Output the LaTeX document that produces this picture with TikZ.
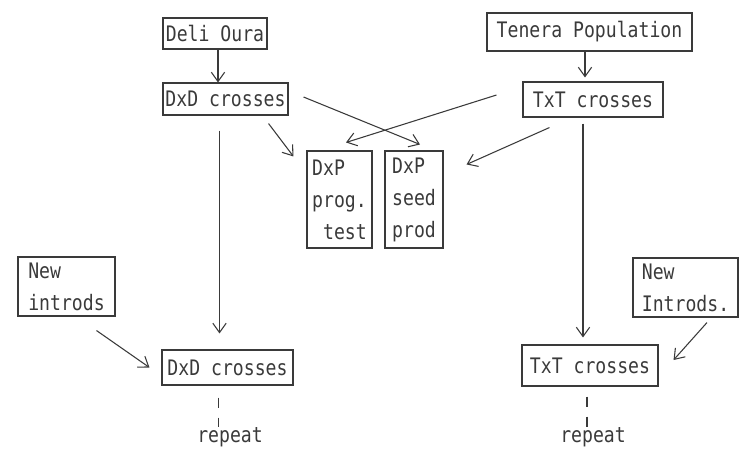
\documentclass[tikz,border=0pt]{standalone}
\usepackage{fontspec}
\setmonofont[FakeStretch=0.85]{DejaVu Sans Mono}
\usetikzlibrary{arrows.meta}
\definecolor{ink}{HTML}{3A3A3A}
\tikzset{
  box/.style={draw=ink, line width=0.8pt, inner sep=0pt, text=ink,
    font=\ttfamily\fontsize{16}{24}\selectfont, align=left},
  arr/.style={draw=ink, line width=0.8pt,
    -{Straight Barb[length=7pt,width=10pt,line width=0.8pt]}},
  link/.style={draw=ink, line width=0.8pt, dash pattern=on 7.5pt off 7.5pt},
  lbl/.style={inner sep=0pt, text=ink, font=\ttfamily\fontsize{16}{24}\selectfont}
}
\begin{document}
\begin{tikzpicture}[x=0.75pt,y=-0.75pt]
  \useasboundingbox (0,0) rectangle (750,462);

  % top row
  \node[box, minimum width=104*0.75pt, minimum height=31*0.75pt] (deli) at (215,33.5) {Deli Oura};
  \node[box, minimum width=205*0.75pt, minimum height=38*0.75pt] (ten) at (589.5,32) {Tenera Population};

  % first crosses
  \node[box, minimum width=125*0.75pt, minimum height=32*0.75pt] (dxd1) at (225.5,99) {DxD crosses};
  \node[box, minimum width=140*0.75pt, minimum height=35*0.75pt] (txt1) at (593,99.5) {TxT crosses};

  % progeny test and seed production
  \node[box, minimum width=65*0.75pt, minimum height=97*0.75pt] (prog) at (339.5,199.5) {DxP\\prog.\\\hphantom{x}test};
  \node[box, minimum width=58*0.75pt, minimum height=97*0.75pt] (seed) at (414,199.5) {DxP\\seed\\prod};

  % new introductions
  \node[box, minimum width=97*0.75pt, minimum height=59*0.75pt] (newl) at (66.5,286.5) {New\\introds};
  \node[box, minimum width=105*0.75pt, minimum height=59*0.75pt] (newr) at (685.5,287.5) {New\\Introds.};

  % second crosses
  \node[box, minimum width=131*0.75pt, minimum height=35*0.75pt] (dxd2) at (227.5,367.5) {DxD crosses};
  \node[box, minimum width=136*0.75pt, minimum height=41*0.75pt] (txt2) at (590,365.5) {TxT crosses};

  % repeat labels
  \node[lbl] (rep1) at (230,437) {repeat};
  \node[lbl] (rep2) at (593,437) {repeat};

  % vertical flow
  \draw[arr] ([shift={(3,0)}]deli.south) -- ([shift={(3,0)}]deli.south |- dxd1.north);
  \draw[arr] ([shift={(-4.5,0)}]ten.south) -- ([shift={(-4.5,-4)}]ten.south |- txt1.north);
  \draw[arr] ([shift={(-6,15)}]dxd1.south) -- ([shift={(-8,-16)}]dxd2.north);
  \draw[arr] ([shift={(-10,6)}]txt1.south) -- ([shift={(-7,-7)}]txt2.north);

  % crossings into the DxP boxes
  \draw[arr] ([shift={(15,-2)}]dxd1.east) -- ([shift={(6,-6)}]seed.north);
  \draw[arr] ([shift={(-20,8)}]dxd1.south east) -- ([shift={(-13,6)}]prog.north west);
  \draw[arr] ([shift={(-26,-4.5)}]txt1.west) -- ([shift={(6.5,-8)}]prog.north);
  \draw[arr] ([shift={(27,10)}]txt1.south west) -- ([shift={(23,14)}]seed.north east);

  % new introductions feeding the crosses
  \draw[arr] ([shift={(30,14)}]newl.south) -- ([shift={(-12,0)}]dxd2.west);
  \draw[arr] ([shift={(21.5,5)}]newr.south) -- ([shift={(15,-5.5)}]txt2.east);

  % repeat links
  \draw[link] ([shift={(-9,12)}]dxd2.south) -- ([shift={(-11.5,0)}]rep1.north);
  \draw[link] ([shift={(-3,10)}]txt2.south) -- ([shift={(-6,0)}]rep2.north);
\end{tikzpicture}
\end{document}
